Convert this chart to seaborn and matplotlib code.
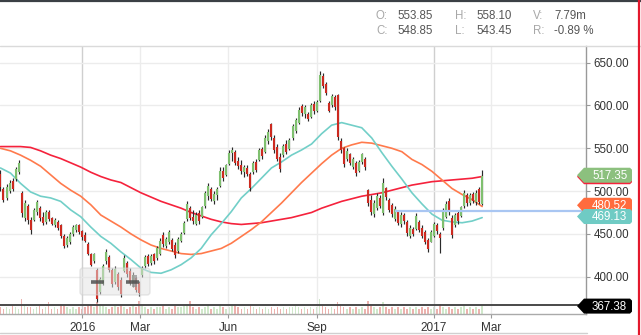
import numpy as np
import pandas as pd
import matplotlib
matplotlib.use("Agg")
import matplotlib.pyplot as plt
from matplotlib.patches import Polygon, FancyBboxPatch, Rectangle
import seaborn as sns

# ---------------- data ----------------
bar_start, bar_end = "2015-10-08", "2017-02-20"

opens = [520, 503, 492, 500, 512, 514, 522, 498, 468, 482, 466, 466, 475, 480, 470, 464, 476, 468, 460, 464,
         460, 447, 437, 440, 450, 454, 460, 453, 449, 438, 426, 418, 408, 382, 392, 418, 423, 408, 394, 403,
         396, 407, 416, 407, 391, 398, 393, 402, 412, 424, 416, 426, 422, 427, 449, 436, 440, 443, 437, 430,
         442, 451, 467, 480, 470, 462, 474, 470, 482, 494, 503, 489, 496, 506, 524, 519, 532, 544, 546, 535,
         530, 522, 527, 520, 522, 534, 536, 549, 546, 558, 578, 562, 552, 540, 542, 555, 549, 562, 570, 580,
         599, 590, 590, 586, 602, 594, 605, 635, 625, 603, 600, 610, 612, 559, 550, 537, 543, 528, 533, 524,
         534, 538, 501, 490, 473, 480, 492, 474, 504, 490, 484, 467, 476, 462, 472, 464, 448, 456, 456, 464,
         457, 452, 443, 441, 448, 460, 450, 457, 470, 488, 468, 460, 474, 471, 482, 496, 486, 497, 487, 503,
         485]
highs = [525, 505, 508, 513, 515, 528, 536, 500, 490, 485, 470, 480, 490, 482, 475, 478, 478, 470, 468, 466,
         462, 450, 447, 452, 460, 462, 462, 455, 452, 440, 428, 428, 410, 400, 415, 432, 425, 410, 412, 405,
         400, 425, 418, 410, 405, 400, 395, 412, 425, 426, 426, 428, 436, 445, 452, 446, 455, 445, 440, 446,
         452, 465, 488, 482, 478, 475, 478, 483, 500, 510, 505, 500, 505, 528, 528, 532, 548, 552, 548, 540,
         536, 530, 530, 522, 535, 538, 550, 552, 565, 572, 580, 565, 555, 545, 555, 560, 562, 578, 585, 598,
         602, 600, 592, 603, 605, 606, 640, 638, 628, 605, 614, 612, 614, 562, 552, 550, 545, 540, 535, 536,
         545, 540, 503, 495, 490, 498, 495, 515, 505, 492, 486, 482, 478, 476, 474, 466, 460, 458, 474, 466,
         460, 455, 445, 454, 464, 463, 452, 480, 488, 492, 472, 474, 478, 483, 501, 498, 498, 499, 501, 505,
         525]
lows = [500, 487, 490, 498, 500, 512, 520, 470, 465, 462, 450, 465, 472, 465, 460, 462, 465, 460, 458, 455,
        445, 433, 435, 438, 448, 452, 450, 443, 440, 425, 412, 416, 370, 380, 390, 415, 405, 388, 392, 385,
        376, 405, 400, 390, 388, 382, 378, 400, 410, 412, 414, 415, 420, 425, 435, 434, 438, 430, 422, 428,
        440, 450, 465, 466, 462, 460, 462, 468, 480, 490, 488, 485, 490, 505, 512, 518, 530, 535, 530, 526,
        520, 516, 518, 500, 520, 522, 535, 538, 545, 555, 560, 545, 535, 522, 540, 543, 548, 560, 568, 578,
        588, 585, 582, 585, 590, 592, 604, 620, 612, 592, 598, 595, 560, 545, 528, 535, 530, 526, 518, 522,
        532, 525, 482, 472, 470, 478, 480, 472, 490, 475, 470, 465, 460, 458, 462, 448, 445, 448, 455, 452,
        445, 438, 429, 440, 446, 450, 428, 455, 468, 472, 445, 458, 462, 470, 480, 482, 484, 486, 484, 485,
        484]
closes = [505, 490, 505, 510, 503, 526, 533, 474, 486, 466, 455, 478, 487, 468, 463, 475, 467, 462, 466, 457,
          447, 436, 445, 450, 458, 460, 452, 446, 442, 427, 414, 426, 374, 397, 412, 429, 408, 391, 409, 388,
          380, 422, 403, 393, 402, 385, 381, 410, 423, 415, 424, 418, 434, 442, 438, 444, 452, 432, 425, 444,
          450, 463, 485, 469, 465, 472, 465, 481, 498, 506, 491, 497, 502, 524, 515, 530, 545, 548, 533, 529,
          523, 528, 520, 504, 533, 525, 548, 541, 562, 569, 563, 548, 538, 526, 553, 546, 560, 576, 583, 595,
          591, 598, 584, 600, 593, 604, 636, 623, 615, 594, 611, 598, 563, 548, 532, 547, 533, 537, 521, 534,
          543, 528, 486, 476, 486, 494, 483, 510, 493, 478, 473, 479, 463, 472, 465, 451, 457, 450, 471, 455,
          448, 441, 432, 452, 462, 453, 445, 477, 485, 475, 449, 472, 465, 481, 498, 486, 495, 488, 498, 487,
          517.35]
volume = [4, 3, 4, 3, 5, 4, 3, 9, 5, 4, 4, 3, 4, 5, 3, 4, 7, 3, 4, 3,
          6, 5, 4, 3, 4, 3, 4, 3, 4, 5, 5, 4, 7, 6, 5, 4, 3, 4, 5, 4,
          5, 4, 3, 4, 5, 4, 8, 5, 4, 3, 4, 3, 4, 4, 5, 3, 4, 3, 5, 4,
          4, 5, 6, 8, 4, 3, 4, 3, 4, 5, 3, 4, 3, 5, 4, 3, 4, 5, 6, 4,
          3, 4, 3, 5, 4, 3, 4, 3, 4, 3, 4, 3, 4, 3, 4, 3, 4, 4, 5, 4,
          3, 4, 3, 4, 3, 4, 9, 5, 4, 3, 4, 3, 7, 5, 4, 3, 4, 3, 4, 3,
          4, 3, 8, 5, 4, 3, 4, 7, 4, 3, 4, 3, 4, 3, 4, 3, 4, 3, 4, 3,
          4, 3, 4, 3, 4, 3, 6, 4, 3, 4, 3, 4, 3, 4, 5, 3, 4, 3, 4, 3,
          5]

ma20 = [527, 521, 509, 499, 494, 492, 488, 478, 470, 458, 447, 439, 429, 420, 410, 405, 404, 408, 414, 422,
        433, 449, 462, 476, 492, 503, 515, 527, 534, 542, 548, 555, 567, 577, 580, 577, 574, 562, 545, 529,
        514, 498, 485, 473, 466, 464, 463, 465, 469]
ma50 = [550, 547, 542, 536, 529, 519, 509, 501, 494, 484, 472, 465, 458, 450, 443, 437, 433, 430, 427, 426,
        427, 430, 433, 439, 447, 455, 464, 475, 486, 498, 510, 521, 532, 542, 550, 554, 557, 556, 553, 550,
        546, 537, 531, 523, 513, 503, 496, 490, 482]
ma200 = [552, 552, 552, 551, 547, 542, 538, 533, 528, 522, 517, 513, 510, 504, 498, 493, 488, 484, 480, 475,
         471, 467, 464, 462, 461, 462, 463, 465, 467, 469, 472, 475, 480, 484, 488, 491, 494, 496, 498, 501,
         504, 507, 509, 511, 512, 513, 514, 515, 517]

ytick_vals = [400, 450, 500, 550, 600, 650]
xtick_dates = ["2016-01-01", "2016-03-01", "2016-06-01", "2016-09-01", "2017-01-01", "2017-03-01"]
xtick_labels = ["2016", "Mar", "Jun", "Sep", "2017", "Mar"]

last_close, last_ma50, last_ma20, low_line = 517.35, 480.52, 469.13, 367.38
crosshair_value, crosshair_start = 476.8, "2016-11-21"
header = [("O:", "553.85"), ("H:", "558.10"), ("V:", "7.79m"),
          ("C:", "548.85"), ("L:", "543.45"), ("R:", "-0.89 %")]

# ---------------- style ----------------
sns.set_theme(style="white")
plt.rcParams['font.family'] = ['Liberation Sans', 'DejaVu Sans']

C_UP, C_DN, C_WICK = "#7fc06f", "#cc2a20", "#2a2a2a"
C_RED, C_ORG, C_CYN = "#f5223c", "#ff7a4c", "#72cfc8"

W, H = 641, 335
fig = plt.figure(figsize=(W / 100, H / 100), dpi=100)
fig.patch.set_facecolor("white")

ax_l, ax_r, ax_t, ax_b = 0, 586, 46, 314
rect = [ax_l / W, 1 - ax_b / H, (ax_r - ax_l) / W, (ax_b - ax_t) / H]
axv = fig.add_axes(rect)
ax = fig.add_axes(rect, sharex=axv)
ax.patch.set_visible(False)

bar_dates = pd.date_range(bar_start, bar_end, periods=len(closes))
ma_dates = pd.date_range(bar_start, bar_end, periods=len(ma20))
up = [c >= o for o, c in zip(opens, closes)]
cols = [C_UP if u else C_DN for u in up]

# volume
axv.bar(bar_dates, volume, width=1.7, color=cols, alpha=0.36, linewidth=0)
axv.set_ylim(0, 160)
axv.axis("off")

# grid
ax.set_xlim(pd.Timestamp("2015-10-07 12:00"), pd.Timestamp("2017-06-08"))
ax.set_ylim(356.4, 669.5)
for d, lab in zip(xtick_dates, xtick_labels):
    ax.axvline(pd.Timestamp(d), color="#cfcfcf" if lab.isdigit() else "#ececec", lw=1, zorder=0)
for v in ytick_vals:
    ax.axhline(v, color="#ececec", lw=1, zorder=0)

# moving averages
sns.lineplot(x=ma_dates, y=ma200, color=C_RED, lw=1.2, ax=ax, zorder=3)
sns.lineplot(x=ma_dates, y=ma50, color=C_ORG, lw=1.2, ax=ax, zorder=3)
sns.lineplot(x=ma_dates, y=ma20, color=C_CYN, lw=1.2, ax=ax, zorder=3)

# candles
ax.vlines(bar_dates, lows, highs, color=C_WICK, lw=0.85, zorder=4)
ax.vlines(bar_dates, opens, closes, colors=cols, lw=1.5, zorder=5)

# reference lines
ax.axhline(low_line, color="#4a4a4a", lw=1.4, zorder=6)
ax.hlines(crosshair_value, pd.Timestamp(crosshair_start), ax.get_xlim()[1], color="#a9c6f2", lw=1.6, zorder=6)

# axes styling
ax.set_xlabel("")
ax.set_ylabel("")
ax.set_yticks(ytick_vals)
ax.set_yticklabels([f"{v:.2f}" for v in ytick_vals])
ax.yaxis.tick_right()
ax.set_xticks([pd.Timestamp(d) for d in xtick_dates])
ax.set_xticklabels(xtick_labels)
ax.tick_params(axis="y", which="both", direction="out", length=3, width=0.8, color="#999999",
               labelsize=8.3, labelcolor="#333333", pad=2.5, right=True, left=False)
ax.tick_params(axis="x", direction="out", length=3, width=0.8, color="#999999",
               labelsize=8.5, labelcolor="#333333", pad=3, bottom=True)
for s in ["top", "left"]:
    ax.spines[s].set_visible(False)
ax.spines["right"].set_color("#999999")
ax.spines["right"].set_linewidth(1)
ax.spines["bottom"].set_color("#aaaaaa")
ax.spines["bottom"].set_linewidth(1)
ax.grid(False)

# ---------------- overlay (pixel coordinates) ----------------
ov = fig.add_axes([0, 0, 1, 1])
ov.set_xlim(0, W)
ov.set_ylim(H, 0)
ov.axis("off")
ov.patch.set_visible(False)


def ypix(v):
    return H - ax.transData.transform((ax.get_xlim()[0], v))[1]


# header
ov.plot([0, W], [0.8, 0.8], color="#3b4045", lw=1.6, solid_capstyle="butt")
ov.plot([0, W], [45.7, 45.7], color="#dadada", lw=1)
ov.plot([0, 587], [333, 333], color="#d0d0d0", lw=1)
ov.plot([639.2, 639.2], [0, H], color="#e3182c", lw=1.6)
xs = [(376, 397), (455, 476), (533, 554)]
for i, (k, val) in enumerate(header):
    xk, xv = xs[i % 3]
    yy = 16 if i < 3 else 31
    ov.text(xk, yy, k, color="#a8a8a8", fontsize=8.3, va="center", ha="left")
    ov.text(xv, yy, val, color="#555555", fontsize=8.3, va="center", ha="left")

# gray selection box with handles
ov.add_patch(FancyBboxPatch((80, 268), 70, 27, boxstyle="round,pad=0,rounding_size=3",
                            fc="#e2e2e2", ec="#cfcfcf", alpha=0.5, lw=1, zorder=2))
ov.plot([91, 104], [281.5, 281.5], color="#505050", lw=2.6, alpha=0.85, solid_capstyle="butt")
ov.plot([126, 139], [281.5, 281.5], color="#505050", lw=2.6, alpha=0.85, solid_capstyle="butt")
ov.add_patch(Rectangle((131.5, 275), 5, 12, fc="#444444", ec="none", alpha=0.75))


def tag(v, color, text, dy=0.0, h=7.5, tcolor="white"):
    yc = ypix(v) + dy
    pts = [(577, yc), (584, yc - h), (630, yc - h), (632, yc - h + 2), (632, yc + h - 2),
           (630, yc + h), (584, yc + h)]
    ov.add_patch(Polygon(pts, closed=True, fc=color, ec="none", zorder=5))
    ov.text(592, yc + 0.5, text, color=tcolor, fontsize=8.3, va="center", ha="left", zorder=6)


tag(last_close, C_RED, "", dy=0.5)
tag(last_close, "#8cc07e", f"{last_close:.2f}", dy=-1.0)
tag(last_ma50, "#ff6b3d", f"{last_ma50:.2f}", dy=-2.5)
tag(last_ma20, "#6fcbc4", f"{last_ma20:.2f}", dy=-1.0)
tag(low_line, "#000000", f"{low_line:.2f}", dy=1.5)

fig.savefig("out.png", dpi=100, facecolor="white")
